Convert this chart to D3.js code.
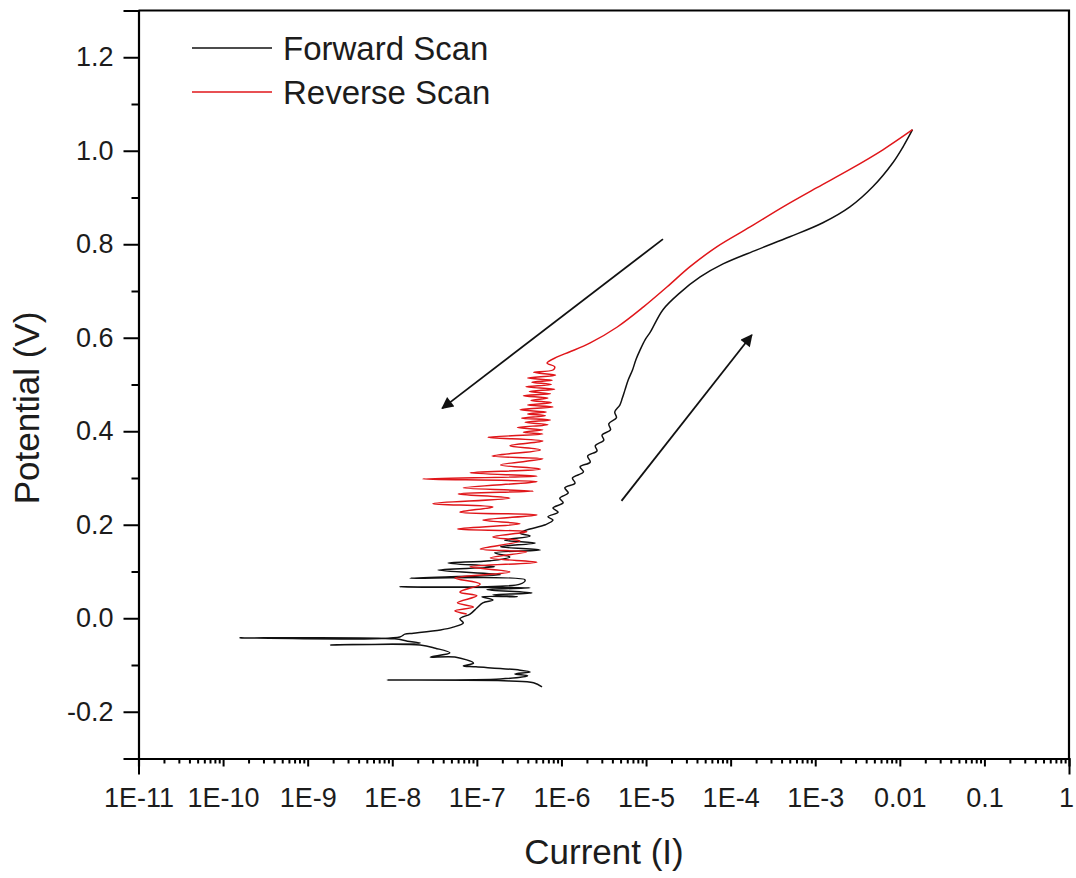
<!DOCTYPE html>
<html>
<head>
<meta charset="utf-8">
<script src="https://cdn.jsdelivr.net/npm/d3@7"></script>
<style>
  body { margin: 0; background: white; }
  svg text { font-family: "Liberation Sans", Arial, sans-serif; fill: #1c1c1c; }
</style>
</head>
<body>
<div id="chart"></div>
<script>
"use strict"

// each point: [log10 of current (A), potential (V)]
const forwardScan = [
  [-6.23, -0.147], [-6.33, -0.138], [-6.61, -0.134], [-8.06, -0.132], [-6.72, -0.130],
  [-6.40, -0.123], [-6.55, -0.119], [-6.37, -0.115], [-6.49, -0.111], [-7.01, -0.104],
  [-7.16, -0.102], [-7.04, -0.096], [-7.26, -0.083], [-7.55, -0.083], [-7.32, -0.074],
  [-7.49, -0.064], [-7.67, -0.057], [-8.73, -0.057], [-7.67, -0.053], [-7.82, -0.049],
  [-7.97, -0.044], [-9.80, -0.042], [-7.91, -0.040], [-7.85, -0.034], [-7.75, -0.032],
  [-7.43, -0.025], [-7.28, -0.019], [-7.16, -0.010], [-7.20, -0.001], [-7.08, 0.009],
  [-7.00, 0.022], [-6.93, 0.033], [-6.81, 0.039], [-6.94, 0.046], [-6.52, 0.046],
  [-6.81, 0.050], [-6.35, 0.054], [-6.88, 0.061], [-6.37, 0.065], [-7.91, 0.067],
  [-6.49, 0.073], [-6.43, 0.082], [-7.79, 0.086], [-6.72, 0.093], [-7.46, 0.103],
  [-6.79, 0.110], [-7.34, 0.118], [-6.84, 0.123], [-6.61, 0.131], [-6.79, 0.140],
  [-6.25, 0.146], [-6.72, 0.153], [-6.31, 0.161], [-6.67, 0.167], [-6.37, 0.176],
  [-6.49, 0.182], [-6.41, 0.189], [-6.19, 0.200], [-6.10, 0.210], [-6.16, 0.217],
  [-6.04, 0.227], [-6.10, 0.236], [-5.98, 0.247], [-6.02, 0.257], [-5.92, 0.268],
  [-5.96, 0.279], [-5.84, 0.289], [-5.87, 0.300], [-5.74, 0.313], [-5.78, 0.324],
  [-5.66, 0.334], [-5.69, 0.347], [-5.58, 0.358], [-5.60, 0.369], [-5.50, 0.381],
  [-5.52, 0.392], [-5.42, 0.403], [-5.44, 0.416], [-5.35, 0.429], [-5.37, 0.441],
  [-5.31, 0.456], [-5.28, 0.471], [-5.25, 0.488], [-5.21, 0.510], [-5.16, 0.531],
  [-5.12, 0.553], [-5.07, 0.574], [-5.01, 0.596], [-4.95, 0.612], [-4.80, 0.660],
  [-4.60, 0.696], [-4.36, 0.730], [-4.09, 0.758], [-3.69, 0.788], [-3.30, 0.816],
  [-2.91, 0.846], [-2.59, 0.880], [-2.32, 0.923], [-2.08, 0.975], [-1.96, 1.009],
  [-1.85, 1.045]
];

const reverseScan = [
  [-1.85, 1.045], [-2.20, 1.002], [-2.59, 0.960], [-2.98, 0.921], [-3.38, 0.880],
  [-3.77, 0.837], [-4.16, 0.795], [-4.48, 0.752], [-4.75, 0.709], [-5.03, 0.666],
  [-5.34, 0.623], [-5.66, 0.589], [-5.90, 0.570], [-6.05, 0.559], [-6.17, 0.546],
  [-6.08, 0.538], [-6.10, 0.531], [-6.33, 0.526], [-6.07, 0.520], [-6.40, 0.514],
  [-6.11, 0.509], [-6.35, 0.505], [-6.12, 0.500], [-6.42, 0.495], [-6.08, 0.490],
  [-6.38, 0.485], [-6.13, 0.480], [-6.45, 0.476], [-6.16, 0.471], [-6.36, 0.466],
  [-6.12, 0.461], [-6.40, 0.456], [-6.10, 0.452], [-6.49, 0.446], [-6.18, 0.441],
  [-6.40, 0.437], [-6.19, 0.433], [-6.47, 0.428], [-6.13, 0.424], [-6.43, 0.419],
  [-6.16, 0.414], [-6.52, 0.408], [-6.22, 0.403], [-6.45, 0.398], [-6.22, 0.394],
  [-6.87, 0.387], [-6.22, 0.379], [-6.61, 0.369], [-6.25, 0.360],
  [-6.82, 0.347], [-6.22, 0.341], [-6.72, 0.328], [-6.25, 0.319], [-7.08, 0.311],
  [-6.29, 0.304], [-7.64, 0.298], [-6.29, 0.292], [-7.16, 0.279], [-6.33, 0.272],
  [-7.22, 0.266], [-6.61, 0.257], [-7.52, 0.245], [-6.81, 0.238], [-7.20, 0.227],
  [-6.29, 0.221], [-6.93, 0.210], [-6.49, 0.202], [-7.23, 0.191], [-6.41, 0.185],
  [-6.81, 0.174], [-6.49, 0.165], [-6.96, 0.148], [-6.41, 0.142], [-6.84, 0.129],
  [-6.29, 0.120], [-7.08, 0.110], [-6.61, 0.099], [-7.26, 0.086], [-6.96, 0.073],
  [-7.20, 0.056], [-7.00, 0.048], [-7.23, 0.033], [-7.04, 0.024], [-7.26, 0.016],
  [-7.12, 0.009]
];

const seriesNames = ["Forward Scan", "Reverse Scan"];

const decades = [-11, -10, -9, -8, -7, -6, -5, -4, -3, -2, -1, 0];
const decadeLabels = ["1E-11", "1E-10", "1E-9", "1E-8", "1E-7", "1E-6",
  "1E-5", "1E-4", "1E-3", "0.01", "0.1", "1"];
const potentialTicks = [-0.2, 0.0, 0.2, 0.4, 0.6, 0.8, 1.0, 1.2];
const potentialMinor = [-0.3, -0.1, 0.1, 0.3, 0.5, 0.7, 0.9, 1.1, 1.3];

// scan direction arrows: [log10 current, potential] tail -> head
const arrows = [
  { from: [-4.80, 0.811], to: [-7.41, 0.449] },
  { from: [-5.29, 0.251], to: [-3.75, 0.606] }
];

let width = 1076, height = 878;
let plot = { left: 138.5, right: 1069, top: 10.5, bottom: 758.5 };

let svg = d3.select("#chart").append("svg")
  .attr("width", width)
  .attr("height", height)
  .style("background", "white");

let x = d3.scaleLog()
  .domain([1e-11, 1])
  .range([plot.left, plot.right]);

let y = d3.scaleLinear()
  .domain([-0.3, 1.3])
  .range([plot.bottom, plot.top]);

let cur = d => Math.pow(10, d);

// minor ticks on the log axis: 2..9 of each decade
let currentMinor = [];
decades.slice(0, -1).forEach(e => {
  for (let m = 2; m <= 9; m++) currentMinor.push(m * cur(e));
});

// frame (top and right sides)
svg.append("path")
  .attr("d", `M${plot.left},${plot.top}H${plot.right}V${plot.bottom}`)
  .style("fill", "none")
  .style("stroke", "black")
  .style("stroke-width", 2.2);

// bottom axis
let xAxis = svg.append("g")
  .attr("transform", `translate(0,${plot.bottom})`)
  .call(d3.axisBottom(x)
    .tickValues(decades.map(cur))
    .tickSize(8)
    .tickPadding(21)
    .tickFormat((d, i) => decadeLabels[i]));

svg.append("g")
  .attr("transform", `translate(0,${plot.bottom})`)
  .call(d3.axisBottom(x)
    .tickValues(currentMinor)
    .tickSize(5)
    .tickFormat(""))
  .call(g => g.select(".domain").remove());

xAxis.selectAll(".tick line")
  .attr("y2", (d, i) => (i === 0 || i === decades.length - 1) ? 16 : 8);

// keep the last label inside the page
xAxis.selectAll(".tick text")
  .filter((d, i) => i === decades.length - 1)
  .attr("dx", -3);

// left axis
svg.append("g")
  .attr("transform", `translate(${plot.left},0)`)
  .call(d3.axisLeft(y)
    .tickValues(potentialTicks)
    .tickSize(15)
    .tickPadding(10)
    .tickFormat(d => d.toFixed(1)));

svg.append("g")
  .attr("transform", `translate(${plot.left},0)`)
  .call(d3.axisLeft(y)
    .tickValues(potentialMinor)
    .tickSize(7)
    .tickFormat(""))
  .call(g => g.select(".domain").remove());

svg.selectAll(".domain")
  .style("stroke-width", 2.2);
svg.selectAll(".tick line")
  .style("stroke-width", 2);
svg.selectAll(".tick text")
  .style("font-family", "\"Liberation Sans\", Arial, sans-serif")
  .style("font-size", "27px")
  .style("fill", "#1c1c1c");

// axis titles
svg.append("text")
  .attr("x", 604)
  .attr("y", 864)
  .attr("text-anchor", "middle")
  .style("font-size", "35px")
  .text("Current (I)");

svg.append("text")
  .attr("transform", "translate(39,408) rotate(-90)")
  .attr("text-anchor", "middle")
  .style("font-size", "35px")
  .text("Potential (V)");

// data
let line = d3.line()
  .x(d => x(cur(d[0])))
  .y(d => y(d[1]))
  .curve(d3.curveCatmullRom.alpha(0.5));

let colors = ["#111111", "#e0161a"];

svg.append("path")
  .datum(forwardScan)
  .attr("d", line)
  .style("fill", "none")
  .style("stroke", colors[0])
  .style("stroke-width", 1.5)
  .style("stroke-linejoin", "round");

svg.append("path")
  .datum(reverseScan)
  .attr("d", line)
  .style("fill", "none")
  .style("stroke", colors[1])
  .style("stroke-width", 1.5)
  .style("stroke-linejoin", "round");

// arrows
svg.append("defs").append("marker")
  .attr("id", "head")
  .attr("viewBox", "0 -5 10 10")
  .attr("refX", 9)
  .attr("refY", 0)
  .attr("markerUnits", "userSpaceOnUse")
  .attr("markerWidth", 21)
  .attr("markerHeight", 12)
  .attr("orient", "auto")
  .append("path")
  .attr("d", "M0,-5L10,0L0,5Z")
  .style("fill", "#111");

svg.selectAll(".arrow")
  .data(arrows)
  .enter().append("line")
  .attr("class", "arrow")
  .attr("x1", d => x(cur(d.from[0])))
  .attr("y1", d => y(d.from[1]))
  .attr("x2", d => x(cur(d.to[0])))
  .attr("y2", d => y(d.to[1]))
  .style("stroke", "#111")
  .style("stroke-width", 1.8)
  .attr("marker-end", "url(#head)");

// legend
let legend = svg.append("g")
  .attr("transform", "translate(192,48)");

seriesNames.forEach((name, i) => {
  let row = legend.append("g")
    .attr("transform", `translate(0,${i * 44})`);
  row.append("line")
    .attr("x1", 0)
    .attr("x2", 80)
    .style("stroke", colors[i])
    .style("stroke-width", 1.6);
  row.append("text")
    .attr("x", 91)
    .attr("y", 12)
    .style("font-size", "33px")
    .text(name);
});
</script>
</body>
</html>
